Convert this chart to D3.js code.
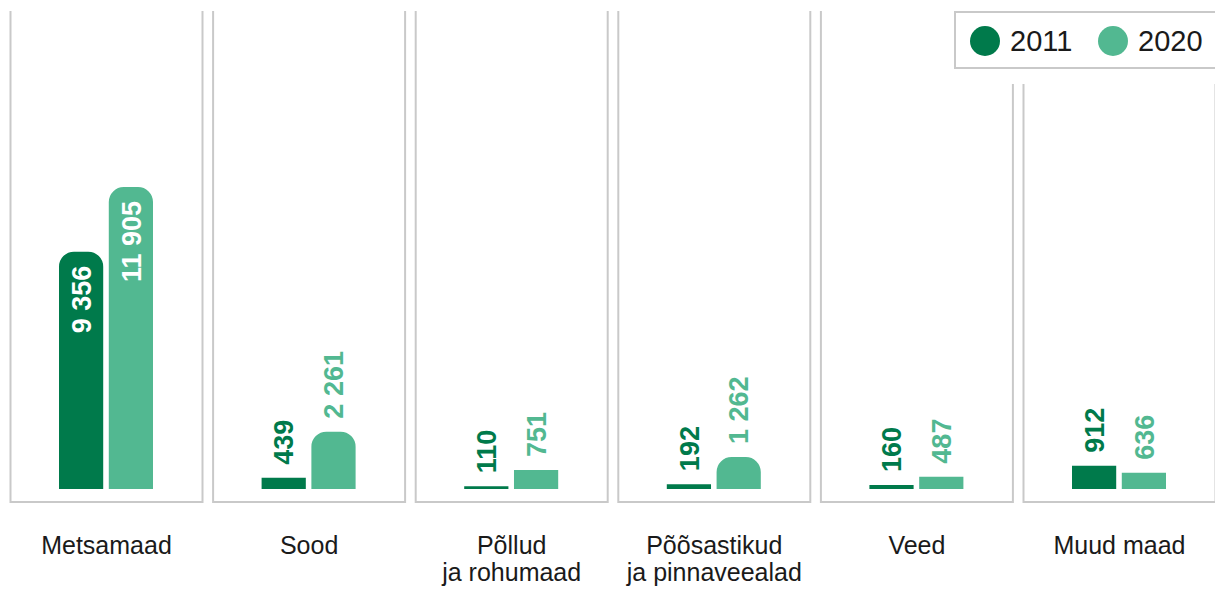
<!DOCTYPE html>
<html>
<head>
<meta charset="utf-8">
<script src="https://cdn.jsdelivr.net/npm/d3@7"></script>
<style>
  body { margin: 0; background: #fff; }
  svg { display: block; font-family: "Liberation Sans", Arial, sans-serif; }
</style>
</head>
<body>
<div id="chart"></div>
<script>
var svgWidth = 1215;
var svgHeight = 592;

// data
var categories = ["Metsamaad", "Sood", "Põllud\nja rohumaad", "Põõsastikud\nja pinnaveealad", "Veed", "Muud maad"];
var years = ["2011", "2020"];
var values2011 = [9356, 439, 110, 192, 160, 912];
var values2020 = [11905, 2261, 751, 1262, 487, 636];

var colors = { "2011": "#007a4b", "2020": "#52b891" };
var gridColor = "#c9c9c9";
var baseY = 489;
var panelTop = 11;
var panelBottom = 502;

var svg = d3.select("#chart")
  .append("svg")
  .attr("width", svgWidth)
  .attr("height", svgHeight);

// panel scale
var step = 202.6;
var pad = 10.6;
var xPanel = d3.scaleBand()
  .domain(categories)
  .range([10.5, 10.5 + 6 * step - pad])
  .paddingInner(pad / step)
  .paddingOuter(0);

var groupWidth = 94;
var xBar = d3.scaleBand()
  .domain(years)
  .range([0, groupWidth])
  .paddingInner(0.112);

var yScale = d3.scaleLinear()
  .domain([0, 19000])
  .range([baseY, 7]);

function fmt(v) {
  return d3.format(",")(v).replace(/,/g, " ");
}

// rounded-top bar path
function barPath(x, y, w, h, r) {
  if (h < 2 * r) {
    return "M" + x + "," + (y + h) + "V" + y + "H" + (x + w) + "V" + (y + h) + "Z";
  }
  return "M" + x + "," + (y + h) +
    "V" + (y + r) +
    "A" + r + "," + r + " 0 0 1 " + (x + r) + "," + y +
    "H" + (x + w - r) +
    "A" + r + "," + r + " 0 0 1 " + (x + w) + "," + (y + r) +
    "V" + (y + h) + "Z";
}

var rows = categories.map(function(c, i) {
  return { cat: c, vals: [ { year: "2011", v: values2011[i] }, { year: "2020", v: values2020[i] } ] };
});

var panels = svg.selectAll("g.panel")
  .data(rows)
  .enter()
  .append("g")
  .attr("class", "panel")
  .attr("transform", d => `translate(${xPanel(d.cat)},0)`);

var bw = xPanel.bandwidth();

// frame (left, bottom, right)
panels.append("path")
  .attr("d", "M0," + panelTop + "V" + panelBottom + "H" + bw + "V" + panelTop)
  .attr("fill", "none")
  .attr("stroke", gridColor)
  .attr("stroke-width", 2);

var offset = (bw - groupWidth) / 2 - 0.5;

var bars = panels.selectAll("g.bar")
  .data(d => d.vals)
  .enter()
  .append("g")
  .attr("class", "bar")
  .attr("transform", d => `translate(${offset + xBar(d.year)},0)`);

bars.append("path")
  .attr("d", function(d) {
    var y = yScale(d.v);
    return barPath(0, y, xBar.bandwidth(), baseY - y, 15);
  })
  .attr("fill", d => colors[d.year]);

bars.append("text")
  .attr("transform", function(d) {
    var y = yScale(d.v);
    var inside = (baseY - y) > 120;
    var ty = inside ? y + 14 : y - 13;
    return `translate(${xBar.bandwidth() / 2},${ty}) rotate(-90)`;
  })
  .attr("dy", "0.36em")
  .attr("text-anchor", d => (baseY - yScale(d.v)) > 120 ? "end" : "start")
  .attr("fill", d => (baseY - yScale(d.v)) > 120 ? "#ffffff" : colors[d.year])
  .style("font-size", "27px")
  .style("font-weight", "bold")
  .text(d => fmt(d.v));

// category labels
var labels = panels.append("text")
  .attr("x", bw / 2)
  .attr("y", 554)
  .attr("text-anchor", "middle")
  .attr("fill", "#1a1a1a")
  .style("font-size", "25px");

labels.selectAll("tspan")
  .data(d => d.cat.split("\n"))
  .enter()
  .append("tspan")
  .attr("x", bw / 2)
  .attr("dy", (d, i) => i === 0 ? 0 : 27)
  .text(d => d);

// legend
var legend = svg.append("g");
legend.append("rect")
  .attr("x", 950).attr("y", 0)
  .attr("width", 270).attr("height", 84)
  .attr("fill", "#fff");
legend.append("rect")
  .attr("x", 955).attr("y", 12)
  .attr("width", 280).attr("height", 56)
  .attr("fill", "#fff")
  .attr("stroke", gridColor)
  .attr("stroke-width", 2);

var legendX = [985, 1113];
var items = legend.selectAll("g.item")
  .data(years)
  .enter()
  .append("g")
  .attr("transform", (d, i) => `translate(${legendX[i]},41)`);
items.append("circle")
  .attr("r", 15)
  .attr("fill", d => colors[d]);
items.append("text")
  .attr("x", 25)
  .attr("y", 10)
  .attr("fill", "#1a1a1a")
  .style("font-size", "29px")
  .text(d => d);
</script>
</body>
</html>
